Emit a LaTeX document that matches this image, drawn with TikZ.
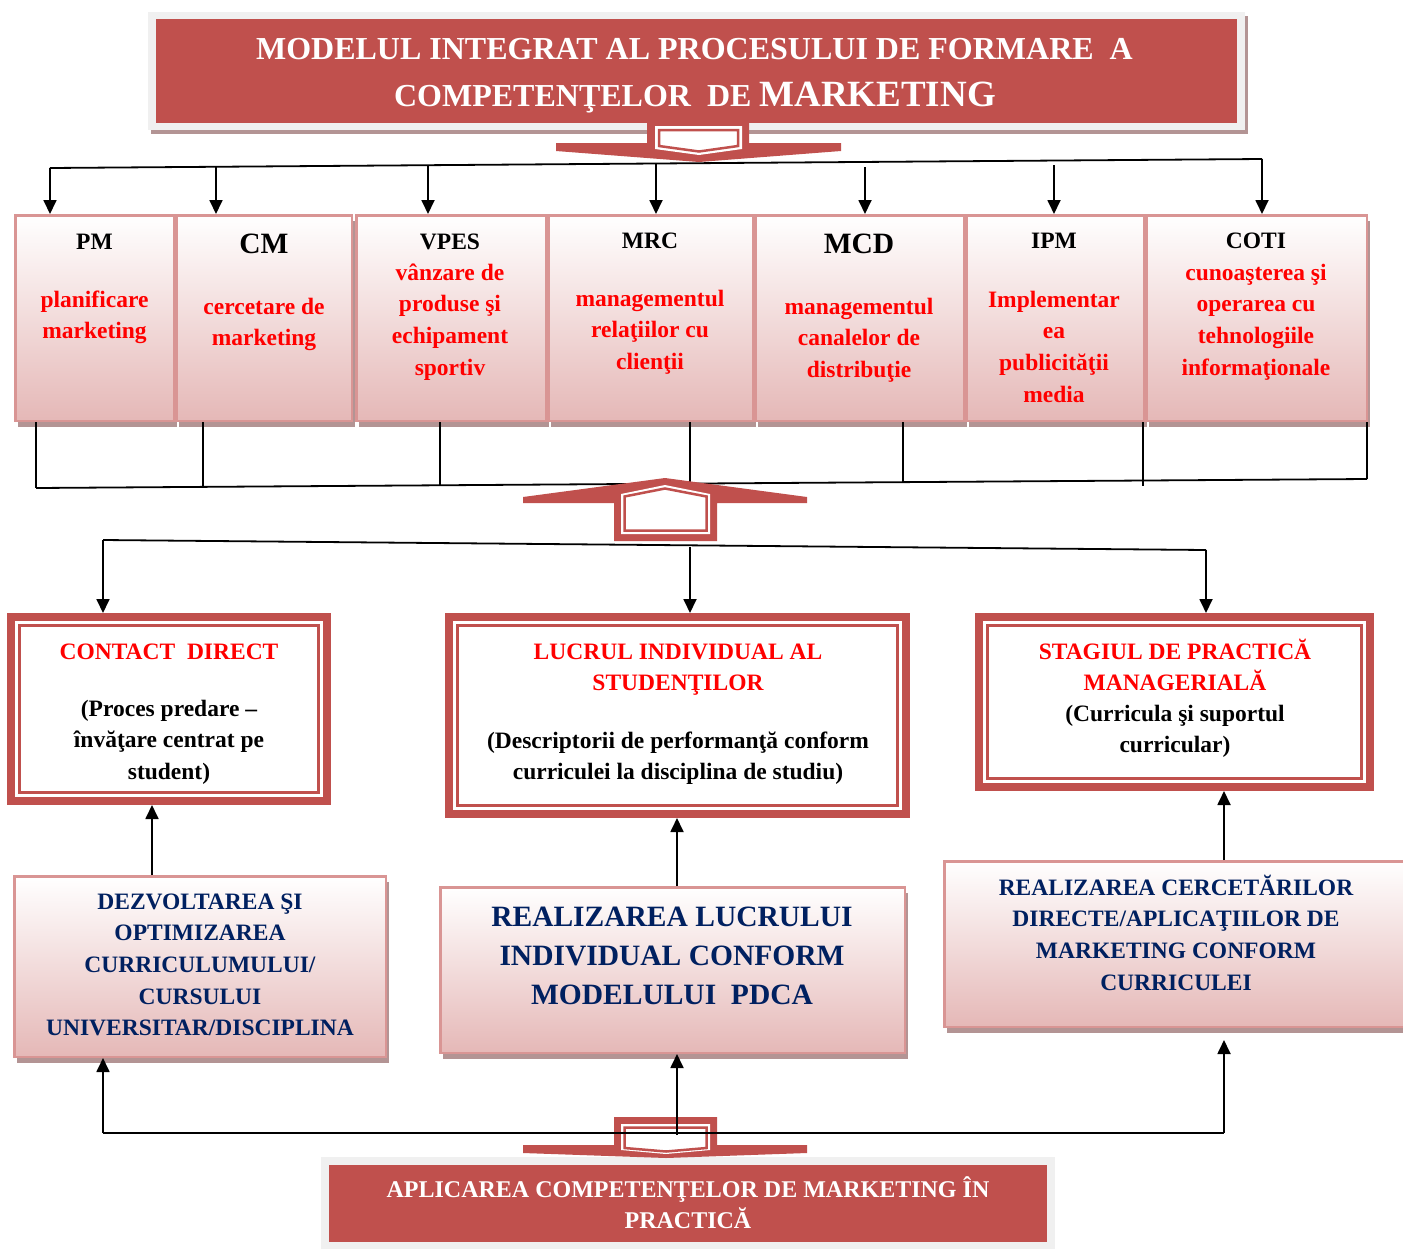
\documentclass[tikz,border=0pt]{standalone}
\usepackage{fontspec}
\setmainfont{Liberation Serif}
\usetikzlibrary{arrows.meta,shadows}

\definecolor{banred}{HTML}{C0504D}
\definecolor{pinkedge}{HTML}{D99594}
\definecolor{pinklow}{HTML}{E5B8B7}
\definecolor{shadowc}{HTML}{B39494}
\definecolor{framegray}{HTML}{F0F0F0}
\definecolor{navy}{HTML}{002060}
\definecolor{txtred}{HTML}{FF0000}

% Multi-line texts below are placed by the baseline of their last line.
\tikzset{
  link/.style={line width=1.8pt, draw=black},
  arr/.style={link, -{Triangle[width=13pt,length=14pt]}},
  pinkbox/.style={draw=pinkedge, line width=2.5pt, top color=white, bottom color=pinklow, inner sep=0pt,
    drop shadow={shadow xshift=3pt, shadow yshift=-6pt, fill=shadowc, opacity=1}},
  framebox/.style={draw=banred, line width=8pt, fill=white, inner sep=0pt},
  thinframe/.style={draw=banred, line width=2.5pt},
  txt/.style={anchor=base, align=center, inner sep=0pt, font=\fontsize{23.5}{31.7}\selectfont\bfseries},
  bigtxt/.style={txt, font=\fontsize{29.5}{39}\selectfont\bfseries},
  bantxt/.style={anchor=base, align=center, inner sep=0pt, text=white, font=\fontsize{32}{40}\selectfont\bfseries},
  blockfill/.style={fill=banred},
  blockgap/.style={fill=white},
  blockline/.style={draw=banred, line width=2.5pt, fill=white},
}

\begin{document}
\begin{tikzpicture}[x=1pt, y={(0pt,-1pt)}]
\useasboundingbox (0,0) rectangle (1403,1248);

% ---------- title banner ----------
\node[fill=framegray, minimum width=1097pt, minimum height=118pt, inner sep=0pt,
  drop shadow={shadow xshift=3pt, shadow yshift=-4pt, fill=shadowc, opacity=1}] (titleframe) at (696.5,71) {};
\node[fill=banred, minimum width=1081pt, minimum height=104pt, inner sep=0pt] (title) at (696.5,71) {};
\node[bantxt] (title1) at (694.5,59) {MODELUL INTEGRAT AL PROCESULUI DE FORMARE\ \ A};
\node[bantxt] (title2) at (695,106) {COMPETENŢELOR\ \ DE {\fontsize{37}{40}\selectfont MARKETING}};

% ---------- competence boxes ----------
\node[pinkbox, minimum width=158.5pt, minimum height=205.5pt] (pm)   at (94.5,318)  {};
\node[pinkbox, minimum width=175.5pt, minimum height=205.5pt] (cm)   at (264,318)   {};
\node[pinkbox, minimum width=189.5pt, minimum height=205.5pt] (vpes) at (451,318)   {};
\node[pinkbox, minimum width=204.5pt, minimum height=205.5pt] (mrc)  at (650.5,318) {};
\node[pinkbox, minimum width=208.5pt, minimum height=205.5pt] (mcd)  at (859.5,318) {};
\node[pinkbox, minimum width=177.5pt, minimum height=205.5pt] (ipm)  at (1055,318)  {};
\node[pinkbox, minimum width=220.5pt, minimum height=205.5pt] (coti) at (1256.5,318) {};

\node[txt] (pmh)   at (94.5,249) {PM};
\node[txt, text=txtred] (pmt) at (94.5,338.7) {planificare\\marketing};
\node[bigtxt] (cmh) at (264,253) {CM};
\node[txt, text=txtred] (cmt) at (264,345.7) {cercetare de\\marketing};
\node[txt] (vpesh) at (450,249) {VPES};
\node[txt, text=txtred] (vpest) at (450,375.1) {vânzare de\\produse şi\\echipament\\sportiv};
\node[txt] (mrch)  at (650,248) {MRC};
\node[txt, text=txtred] (mrct) at (650,369.4) {managementul\\relaţiilor cu\\clienţii};
\node[bigtxt] (mcdh) at (859,253) {MCD};
\node[txt, text=txtred] (mcdt) at (859,377.4) {managementul\\canalelor de\\distribuţie};
\node[txt] (ipmh)  at (1054,248) {IPM};
\node[txt, text=txtred] (ipmt) at (1054,402.1) {Implementar\\ea\\publicităţii\\media};
\node[txt] (cotih) at (1256,248) {COTI};
\node[txt, text=txtred] (cotit) at (1256,375.1) {cunoaşterea şi\\operarea cu\\tehnologiile\\informaţionale};

% ---------- distribution line under the title ----------
\coordinate (d1) at (50,168);
\coordinate (d2) at (216,167);
\coordinate (d3) at (428,166);
\coordinate (d4) at (656,164);
\coordinate (d5) at (865,167);
\coordinate (d6) at (1054,165);
\coordinate (d7) at (1262,159);
\draw[link] (d1) -- (d7);
\draw[arr] (d1) -- (pm.north -| d1);
\draw[arr] (d2) -- (cm.north -| d2);
\draw[arr] (d3) -- (vpes.north -| d3);
\draw[arr] (d4) -- (mrc.north -| d4);
\draw[arr] (d5) -- (mcd.north -| d5);
\draw[arr] (d6) -- (ipm.north -| d6);
\draw[arr] (d7) -- (coti.north -| d7);

% ---------- down block arrow under the title ----------
\path[blockfill] (647,117) -- (749,117) -- (749,143) -- (841,143) -- (841,151) -- (699,162)
  -- (556,151) -- (556,143) -- (647,143) -- cycle;
\path[blockgap] (655,126) -- (742,126) -- (742,149) -- (699,155) -- (655,149) -- cycle;
\path[blockline] (659,130) -- (738,130) -- (738,146) -- (699,151.5) -- (659,146) -- cycle;

% ---------- collecting line under the boxes ----------
\coordinate (u1) at (36,488);
\coordinate (u2) at (203,487);
\coordinate (u3) at (440,485.3);
\coordinate (u4) at (690,483.6);
\coordinate (u5) at (903,482.1);
\coordinate (u6) at (1143,486);
\coordinate (u7) at (1367,479);
\draw[link] (u1) -- (u7);
\draw[link] (pm.south -| u1) -- (u1);
\draw[link] (cm.south -| u2) -- (u2);
\draw[link] (vpes.south -| u3) -- (u3);
\draw[link] (mrc.south -| u4) -- (u4);
\draw[link] (mcd.south -| u5) -- (u5);
\draw[link] (ipm.south -| u6) -- (u6);
\draw[link] (coti.south -| u7) -- (u7);

% ---------- learning forms ----------
\node[framebox, minimum width=316pt, minimum height=184pt] (cd) at (169,709) {};
\node[framebox, minimum width=457pt, minimum height=197pt] (li) at (677.5,715.5) {};
\node[framebox, minimum width=391pt, minimum height=170pt] (sp) at (1174.5,702) {};
\draw[thinframe] ([shift={(12.5,12.5)}]cd.north west) rectangle ([shift={(-12.5,-12.5)}]cd.south east);
\draw[thinframe] ([shift={(12.5,12.5)}]li.north west) rectangle ([shift={(-12.5,-12.5)}]li.south east);
\draw[thinframe] ([shift={(12.5,12.5)}]sp.north west) rectangle ([shift={(-12.5,-12.5)}]sp.south east);

\node[txt, text=txtred] (cdh) at (169,659) {CONTACT\ \ DIRECT};
\node[txt] (cdt) at (169,779.4) {(Proces predare –\\învăţare centrat pe\\student)};
\node[txt, text=txtred] (lih) at (678,690.7) {LUCRUL INDIVIDUAL AL\\STUDENŢILOR};
\node[txt] (lit) at (678,779.7) {(Descriptorii de performanţă conform\\curriculei la disciplina de studiu)};
\node[txt, text=txtred] (sph) at (1175,690.7) {STAGIUL DE PRACTICĂ\\MANAGERIALĂ};
\node[txt] (spt) at (1175,752.7) {(Curricula şi suportul\\curricular)};

% ---------- three-way split ----------
\coordinate (m1) at (103,540);
\coordinate (m2) at (690,547);
\coordinate (m3) at (1206,550);
\draw[link] (m1) -- (m3);
\draw[arr] (m1) -- (cd.north -| m1);
\draw[arr] (m2) -- (li.north -| m2);
\draw[arr] (m3) -- (sp.north -| m3);

% ---------- up block arrow ----------
\path[blockfill] (614,541) -- (717,541) -- (717,503) -- (807,503) -- (807,497) -- (665,478)
  -- (523,497) -- (523,503) -- (614,503) -- cycle;
\path[blockgap] (621,534) -- (710,534) -- (710,494) -- (665,485) -- (621,494) -- cycle;
\path[blockline] (624.5,530.5) -- (706.5,530.5) -- (706.5,496.5) -- (665,488.5) -- (624.5,496.5) -- cycle;

% ---------- realisation boxes ----------
\node[pinkbox, minimum width=371.5pt, minimum height=180.5pt] (dz) at (200,966.5) {};
\node[pinkbox, minimum width=464.5pt, minimum height=165.5pt] (rl) at (672.5,970) {};
\node[pinkbox, minimum width=460.5pt, minimum height=165.5pt] (rc) at (1174.5,944) {};

\node[txt, text=navy] (dzt) at (200,1035.8) {DEZVOLTAREA ŞI\\OPTIMIZAREA\\CURRICULUMULUI/\\CURSULUI\\UNIVERSITAR/DISCIPLINA};
\node[bigtxt, text=navy] (rlt) at (672,1004) {REALIZAREA LUCRULUI\\INDIVIDUAL CONFORM\\MODELULUI\ \ PDCA};
\node[txt, text=navy] (rct) at (1176,990.1) {REALIZAREA CERCETĂRILOR\\DIRECTE/APLICAŢIILOR DE\\MARKETING CONFORM\\CURRICULEI};

\coordinate (kA) at (152,0);
\coordinate (kB) at (677,0);
\coordinate (kC) at (1224,0);
\draw[arr] (dz.north -| kA) -- (cd.south -| kA);
\draw[arr] (rl.north -| kB) -- (li.south -| kB);
\draw[arr] (rc.north -| kC) -- (sp.south -| kC);

% ---------- application banner ----------
\node[fill=framegray, minimum width=734pt, minimum height=95pt, inner sep=0pt] (appframe) at (688,1204.5) {};
\node[fill=banred, minimum width=718pt, minimum height=77pt, inner sep=0pt] (app) at (688,1203.5) {};
\node[bantxt, font=\fontsize{24}{31}\selectfont\bfseries] (appt) at (688,1228) {APLICAREA COMPETENŢELOR DE MARKETING ÎN\\PRACTICĂ};

% ---------- down block arrow above the application banner ----------
\path[blockfill] (614,1117) -- (717,1117) -- (717,1145) -- (807,1145) -- (807,1153) -- (666,1158)
  -- (523,1153) -- (523,1145) -- (614,1145) -- cycle;
\path[blockgap] (621,1124) -- (710,1124) -- (710,1150) -- (666,1154) -- (621,1150) -- cycle;
\path[blockline] (624.5,1127.5) -- (706.5,1127.5) -- (706.5,1148) -- (666,1151.5) -- (624.5,1148) -- cycle;

% ---------- feedback lines ----------
\coordinate (fL) at (103,1133);
\coordinate (fM) at (677,1135);
\coordinate (fR) at (1224,1133);
\coordinate (fRtop) at (1224,1040);
\draw[link] (fL) -- (fR);
\draw[arr] (fL) -- (dz.south -| fL);
\draw[arr] (fM) -- (rl.south -| fM);
\draw[arr] (fR) -- (fRtop);

\end{tikzpicture}
\end{document}
